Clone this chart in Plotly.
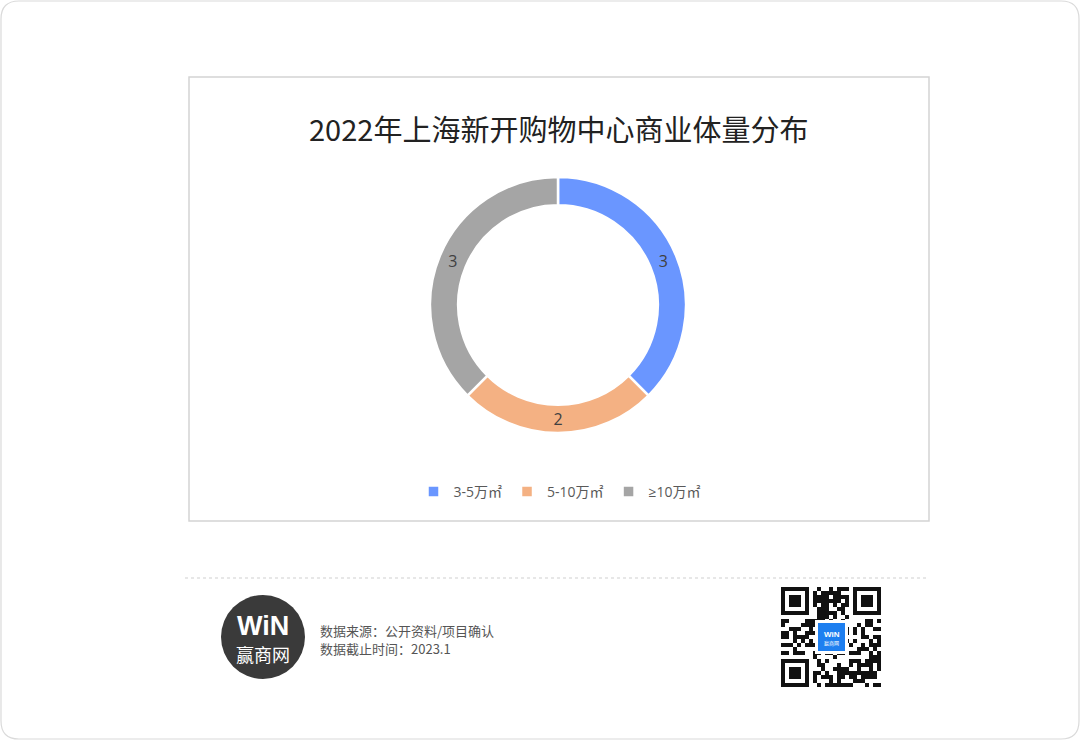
import plotly.graph_objects as go

# ---- data ----
categories = ["3-5万㎡", "5-10万㎡", "≥10万㎡"]
values = [3, 2, 3]
colors = ["#6A96FF", "#F4B183", "#A5A5A5"]
title_text = "2022年上海新开购物中心商业体量分布"
source_lines = ["数据来源：公开资料/项目确认", "数据截止时间：2023.1"]

W, H = 1080, 740
def px(x): return x / W
def py(y): return 1 - y / H

fig = go.Figure()
fig.add_trace(go.Pie(
    labels=categories, values=values, sort=False, direction="clockwise", rotation=0,
    hole=0.78,
    marker=dict(colors=colors, line=dict(color="white", width=2.5)),
    textinfo="value", textposition="inside", insidetextorientation="horizontal",
    textfont=dict(family="Open Sans, Noto Sans CJK SC", size=16, color="#404040"),
    domain=dict(x=[px(430), px(686)], y=[py(433), py(177)]),
    showlegend=True, hoverinfo="label+value",
))

shapes = []
r = 18
x0, y0, x1, y1 = 1, 1, W - 1, H - 1
path = (f"M {px(x0+r)},{py(y0)} L {px(x1-r)},{py(y0)} Q {px(x1)},{py(y0)} {px(x1)},{py(y0+r)} "
        f"L {px(x1)},{py(y1-r)} Q {px(x1)},{py(y1)} {px(x1-r)},{py(y1)} "
        f"L {px(x0+r)},{py(y1)} Q {px(x0)},{py(y1)} {px(x0)},{py(y1-r)} "
        f"L {px(x0)},{py(y0+r)} Q {px(x0)},{py(y0)} {px(x0+r)},{py(y0)} Z")
shapes.append(dict(type="path", xref="paper", yref="paper", path=path,
                   line=dict(color="#DADADA", width=1.2), fillcolor="rgba(0,0,0,0)", layer="below"))
shapes.append(dict(type="rect", xref="paper", yref="paper", x0=px(189), x1=px(929), y0=py(521), y1=py(77),
                   line=dict(color="#D4D4D4", width=1.5), layer="below"))
shapes.append(dict(type="line", xref="paper", yref="paper", x0=px(185), x1=px(928), y0=py(578), y1=py(578),
                   line=dict(color="#CFCFCF", width=1, dash="dot")))
shapes.append(dict(type="circle", xref="paper", yref="paper", x0=px(221), x1=px(305), y0=py(679), y1=py(595),
                   fillcolor="#3A3A3A", line=dict(width=0)))

# QR-like decoration (deterministic module pattern)
qx, qy, n, m = 781, 587, 25, 4
cells = set()
def finder(cx, cy):
    for i in range(7):
        for j in range(7):
            if i in (0, 6) or j in (0, 6) or (2 <= i <= 4 and 2 <= j <= 4):
                cells.add((cx + i, cy + j))
finder(0, 0); finder(n - 7, 0); finder(0, n - 7)
state = 2463534242
for i in range(n):
    for j in range(n):
        state ^= (state << 13) & 0xFFFFFFFF
        state ^= state >> 17
        state ^= (state << 5) & 0xFFFFFFFF
        if (i < 8 and j < 8) or (i >= n - 8 and j < 8) or (i < 8 and j >= n - 8):
            continue
        if state % 100 < 52:
            cells.add((i, j))
qp = ""
for (i, j) in cells:
    a, b = qx + i * m, qy + j * m
    qp += f"M {px(a)},{py(b)} L {px(a+m)},{py(b)} L {px(a+m)},{py(b+m)} L {px(a)},{py(b+m)} Z "
shapes.append(dict(type="path", xref="paper", yref="paper", path=qp, fillcolor="#111111", line=dict(width=0)))
shapes.append(dict(type="rect", xref="paper", yref="paper", x0=px(815), x1=px(848), y0=py(654), y1=py(620),
                   fillcolor="white", line=dict(width=0)))
shapes.append(dict(type="rect", xref="paper", yref="paper", x0=px(818), x1=px(845), y0=py(651), y1=py(623),
                   fillcolor="#1E7FF0", line=dict(width=0)))

annotations = [
    dict(text=title_text, x=px(558), y=py(128), xref="paper", yref="paper", showarrow=False,
         font=dict(family="Noto Sans CJK SC", size=29, color="#222222"), xanchor="center", yanchor="middle"),
    dict(text="<b>WiN</b>", x=px(263), y=py(626), xref="paper", yref="paper", showarrow=False,
         font=dict(family="Liberation Sans", size=27, color="white"), xanchor="center", yanchor="middle"),
    dict(text="赢商网", x=px(263), y=py(654), xref="paper", yref="paper", showarrow=False,
         font=dict(family="Noto Sans CJK SC", size=18, color="white"), xanchor="center", yanchor="middle"),
    dict(text="<b>WiN</b>", x=px(831.5), y=py(634), xref="paper", yref="paper", showarrow=False,
         font=dict(family="Liberation Sans", size=8, color="white"), xanchor="center", yanchor="middle"),
    dict(text="赢商网", x=px(831.5), y=py(643), xref="paper", yref="paper",
         showarrow=False, font=dict(family="Noto Sans CJK SC", size=5, color="white"),
         xanchor="center", yanchor="middle"),
    dict(text=source_lines[0], x=px(318), y=py(630.5), xref="paper", yref="paper", showarrow=False,
         font=dict(family="Noto Sans CJK SC", size=13, color="#555555"), xanchor="left", yanchor="middle"),
    dict(text=source_lines[1], x=px(318), y=py(648.5), xref="paper", yref="paper", showarrow=False,
         font=dict(family="Noto Sans CJK SC", size=13, color="#555555"), xanchor="left", yanchor="middle"),
]

fig.update_layout(
    width=W, height=H, margin=dict(l=0, r=0, t=0, b=0),
    paper_bgcolor="white", plot_bgcolor="white",
    shapes=shapes, annotations=annotations,
    legend=dict(orientation="h", x=px(560), y=py(492), xanchor="center", yanchor="middle",
                font=dict(family="Open Sans, Noto Sans CJK SC", size=14, color="#595959"),
                itemwidth=30, traceorder="normal", tracegroupgap=0),
)
fig.write_html("out.html", config={"displayModeBar": False},
               post_script="document.body.style.margin='0';document.body.style.overflow='hidden';")
